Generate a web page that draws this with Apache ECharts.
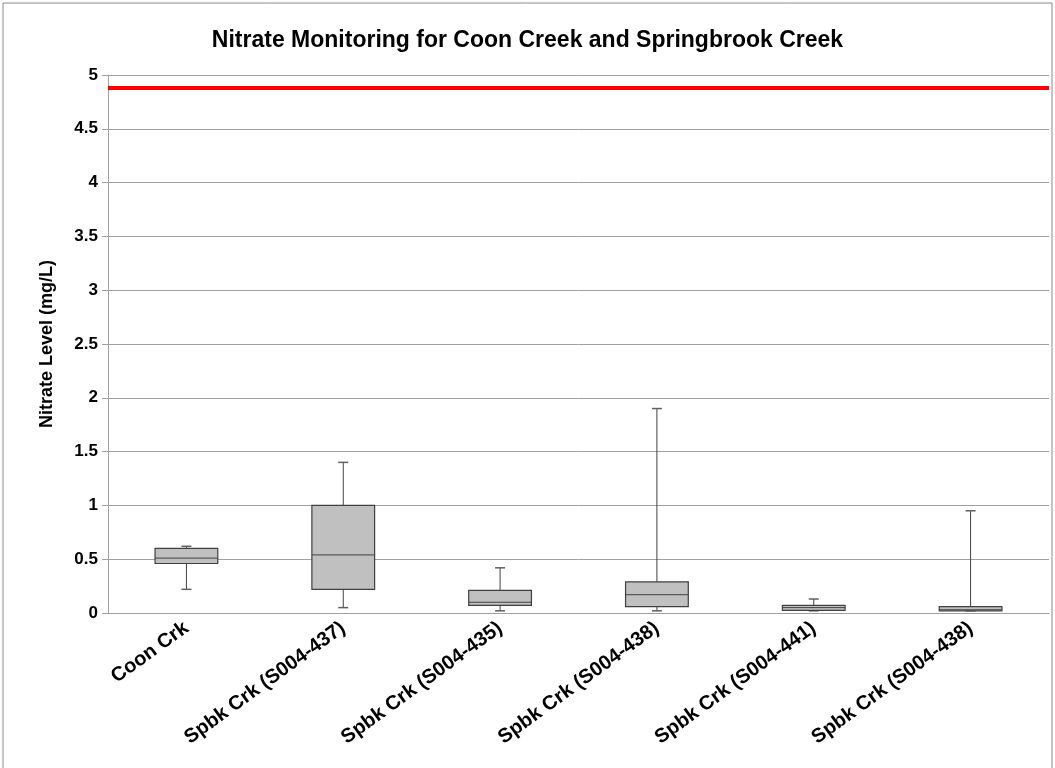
<!DOCTYPE html>
<html>
<head>
<meta charset="utf-8">
<script src="https://cdn.jsdelivr.net/npm/echarts@6/dist/echarts.min.js"></script>
<style>
  html, body { margin: 0; padding: 0; background: #fff; }
  #chart { width: 1055px; height: 768px; }
</style>
</head>
<body>
<div id="chart"></div>
<script>
var categories = ['Coon Crk', 'Spbk Crk (S004-437)', 'Spbk Crk (S004-435)',
                  'Spbk Crk (S004-438)', 'Spbk Crk (S004-441)', 'Spbk Crk (S004-438)'];
var whiskerLow  = [0.22, 0.05, 0.02, 0.02, 0.02, 0.02];
var q1          = [0.46, 0.22, 0.07, 0.06, 0.025, 0.02];
var median      = [0.51, 0.54, 0.10, 0.17, 0.05, 0.03];
var q3          = [0.60, 1.00, 0.21, 0.29, 0.07, 0.06];
var whiskerHigh = [0.62, 1.40, 0.42, 1.90, 0.13, 0.95];
var limitLevel = 4.88;

var boxData = categories.map(function (c, i) {
  return [i, whiskerLow[i], q1[i], median[i], q3[i], whiskerHigh[i]];
});

function renderBox(params, api) {
  var i = api.value(0);
  var pLow = api.coord([i, api.value(1)]);
  var pQ1 = api.coord([i, api.value(2)]);
  var pMed = api.coord([i, api.value(3)]);
  var pQ3 = api.coord([i, api.value(4)]);
  var pHigh = api.coord([i, api.value(5)]);
  var bw = api.size([1, 0])[0] * 0.4;
  var cap = 5;
  var x = pMed[0];
  var lineStyle = { stroke: '#404040', lineWidth: 1 };
  return {
    type: 'group',
    children: [
      { type: 'line', shape: { x1: x, y1: pQ3[1], x2: x, y2: pHigh[1] }, style: lineStyle },
      { type: 'line', shape: { x1: x, y1: pLow[1], x2: x, y2: pQ1[1] }, style: lineStyle },
      { type: 'line', shape: { x1: x - cap, y1: pHigh[1], x2: x + cap, y2: pHigh[1] }, style: { stroke: '#606060', lineWidth: 1.5 } },
      { type: 'line', shape: { x1: x - cap, y1: pLow[1], x2: x + cap, y2: pLow[1] }, style: { stroke: '#606060', lineWidth: 1.5 } },
      { type: 'rect', shape: { x: x - bw / 2, y: pQ3[1], width: bw, height: pQ1[1] - pQ3[1] },
        style: { fill: '#c0c0c0', stroke: '#404040', lineWidth: 1.2 } },
      { type: 'line', shape: { x1: x - bw / 2, y1: pMed[1], x2: x + bw / 2, y2: pMed[1] }, style: lineStyle }
    ]
  };
}

var chart = echarts.init(document.getElementById('chart'));
var option = {
  backgroundColor: '#fff',
  animation: false,
  title: {
    text: 'Nitrate Monitoring for Coon Creek and Springbrook Creek',
    left: 'center',
    top: 24,
    textStyle: { fontFamily: 'Liberation Sans', fontSize: 23, fontWeight: 'bold', color: '#000' }
  },
  graphic: [{
    type: 'rect',
    shape: { x: 3, y: 3, width: 1049, height: 800 },
    style: { fill: 'none', stroke: '#8a8a8a', lineWidth: 1 },
    silent: true
  }],
  grid: { left: 108, right: 6, top: 75, bottom: 155 },
  xAxis: {
    type: 'category',
    data: categories,
    axisLine: { lineStyle: { color: '#a0a0a0' } },
    axisTick: { alignWithLabel: false, length: 7, lineStyle: { color: '#a0a0a0' } },
    axisLabel: {
      rotate: 36,
      margin: 13,
      fontFamily: 'Liberation Sans',
      fontSize: 20,
      fontWeight: 'bold',
      color: '#000'
    }
  },
  yAxis: {
    type: 'value',
    min: 0,
    max: 5,
    interval: 0.5,
    name: 'Nitrate Level (mg/L)',
    nameLocation: 'middle',
    nameGap: 52,
    nameTextStyle: { fontFamily: 'Liberation Sans', fontSize: 18, fontWeight: 'bold', color: '#000' },
    axisLine: { show: true, lineStyle: { color: '#a0a0a0' } },
    axisTick: { show: true, length: 6, lineStyle: { color: '#a0a0a0' } },
    axisLabel: { fontFamily: 'Liberation Sans', fontSize: 17, fontWeight: 'bold', color: '#000', margin: 10 },
    splitLine: { lineStyle: { color: '#a0a0a0' } }
  },
  series: [{
    type: 'custom',
    renderItem: renderBox,
    encode: { x: 0, y: [1, 2, 3, 4, 5] },
    data: boxData,
    z: 3,
    markLine: {
      silent: true,
      symbol: 'none',
      label: { show: false },
      lineStyle: { color: '#ff0000', width: 4, type: 'solid' },
      data: [{ yAxis: limitLevel }]
    }
  }]
};
chart.setOption(option);
</script>
</body>
</html>
